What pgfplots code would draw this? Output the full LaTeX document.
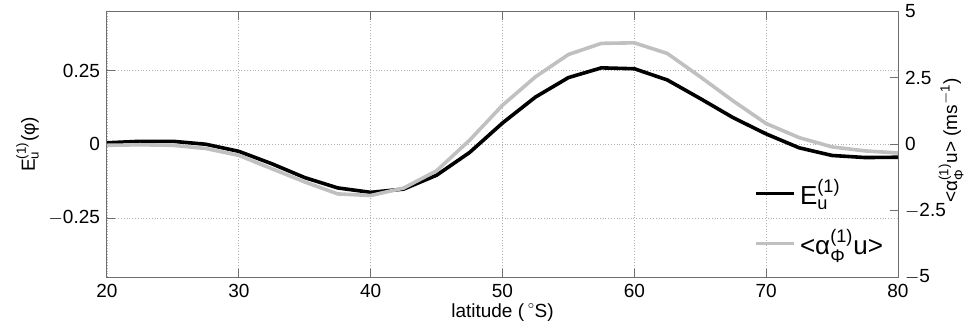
\documentclass[border=0pt]{standalone}
\usepackage{pgfplots}
\pgfplotsset{compat=1.18}
\usepackage{amsmath}
\usepackage{fontspec}
\setmainfont{Liberation Sans}
\definecolor{lgray}{RGB}{192,192,192}
\definecolor{axgray}{RGB}{110,110,110}
\pgfplotstableread{
lat E A
20   0.005 -0.04
22.5 0.010 -0.02
25   0.010 -0.04
27.5 0.000 -0.16
30  -0.024 -0.42
32.5 -0.066 -0.92
35  -0.113 -1.42
37.5 -0.148 -1.87
40  -0.163 -1.93
42.5 -0.152 -1.65
45  -0.105 -1.00
47.5 -0.028 0.15
50   0.072 1.47
52.5 0.160 2.54
55   0.226 3.38
57.5 0.259 3.80
60   0.256 3.82
62.5 0.218 3.42
65   0.155 2.54
67.5 0.090 1.63
70   0.035 0.78
72.5 -0.012 0.25
75  -0.038 -0.10
77.5 -0.045 -0.25
80  -0.044 -0.33
}\datatable
\newcommand{\su}[2]{$^{\text{#1}}_{\text{#2}}$}
\begin{document}
\begin{tikzpicture}[font=\fontsize{9}{11}\selectfont]
\useasboundingbox (-53.5pt,-28.5pt) rectangle (431.5pt,138.5pt);
\pgfplotsset{
  every axis/.append style={
    scale only axis, width=395.5pt, height=132.75pt,
    xmin=20, xmax=80,
    axis line style={axgray, line width=0.5pt},
    tick style={axgray, line width=0.5pt},
    tick align=inside,
    major tick length=4pt,
    /pgf/number format/assume math mode=true,
    ticklabel style={font=\fontsize{9.5}{11}\selectfont},
    label style={font=\fontsize{9.5}{11}\selectfont},
  }
}
\begin{axis}[
  ymin=-0.45, ymax=0.45,
  xtick={20,30,...,80},
  ytick={-0.25,0,0.25},
  yticklabels={$-$0.25,0,0.25},
  ytick pos=left,
  grid=major,
  grid style={densely dotted, gray!60, line width=0.4pt},
  xlabel={latitude ({\,}\raisebox{0.9ex}{\tiny$\circ$}S)},
  ylabel={E\su{(1)}{u}(φ)},
  xlabel style={yshift=4pt},
  ylabel style={yshift=-2pt},
  legend style={draw=none, fill=none, at={(0.818,0.385)}, anchor=north west,
    row sep=7pt, font=\fontsize{13}{15}\selectfont, inner sep=0pt,
    /tikz/every odd column/.style={}},
  legend cell align=left,
  legend image code/.code={\draw[#1] (0pt,0pt) -- (19pt,0pt);},
]
\addplot[black, line width=1.8pt] table[x=lat, y=E] {\datatable};
\addlegendentry{E\su{(1)}{u}}
\addlegendimage{lgray, line width=1.8pt}
\addlegendentry{<α\su{(1)}{Φ}u>}
\end{axis}
\begin{axis}[
  ymin=-5, ymax=5,
  axis x line=none,
  axis y line*=right,
  ytick={-5,-2.5,0,2.5,5},
  yticklabels={$-$5,$-$2.5,0,2.5,5},
  ylabel={<α\su{(1)}{Φ}u> (ms\textsuperscript{$-$1})},
  ylabel style={at={(rel axis cs:1,0.5)}, anchor=center, yshift=-26.5pt, xshift=2pt},
]
\addplot[lgray, line width=1.8pt] table[x=lat, y=A] {\datatable};
\end{axis}
\end{tikzpicture}
\end{document}
